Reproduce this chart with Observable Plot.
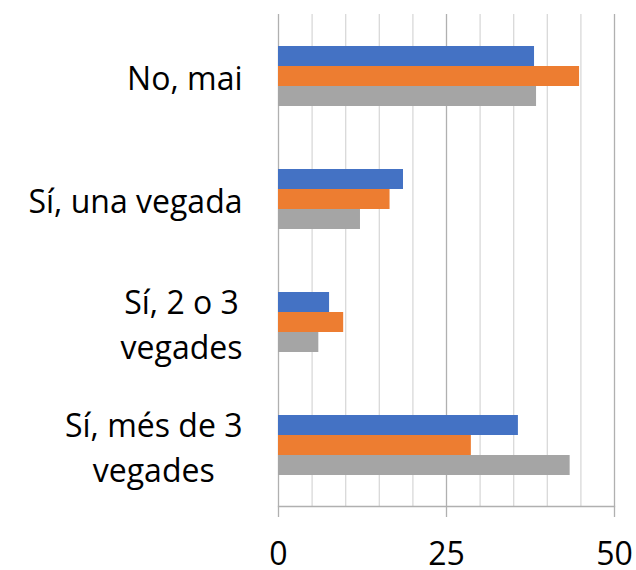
<!DOCTYPE html>
<html>
<head>
<meta charset="utf-8">
<script src="https://cdn.jsdelivr.net/npm/d3@7"></script>
<script src="https://cdn.jsdelivr.net/npm/@observablehq/plot@0.6"></script>
<style>
  body { margin: 0; background: #fff; }
  #chart { width: 636px; height: 570px; }
</style>
</head>
<body>
<div id="chart"></div>
<script>
const categories = ["No, mai", "Sí, una vegada", "Sí, 2 o 3\nvegades", "Sí, més de 3\nvegades"];
const seriesNames = ["Sèrie 1", "Sèrie 2", "Sèrie 3"];
const seriesColors = ["#4472C4", "#ED7D31", "#A5A5A5"];
const serie1 = [38.1, 18.6, 7.6, 35.7];
const serie2 = [44.8, 16.6, 9.7, 28.7];
const serie3 = [38.4, 12.2, 6.0, 43.4];
const majorTicks = [0, 25, 50];
const minorTicks = [5, 10, 15, 20, 30, 35, 40, 45];

const allSeries = [serie1, serie2, serie3];
const data = [];
categories.forEach((c, i) => {
  seriesNames.forEach((s, j) => data.push({category: c, series: s, value: allSeries[j][i]}));
});

const font = "'Open Sans', Lato, sans-serif";

const chart = Plot.plot({
  width: 636,
  height: 570,
  marginTop: 12,
  marginBottom: 63,
  marginLeft: 278,
  marginRight: 22,
  style: {fontFamily: font, background: "#fff", color: "#000"},
  x: {domain: [0, 50], axis: null},
  y: {domain: seriesNames, axis: null, paddingInner: 0, paddingOuter: 1.5},
  fy: {domain: categories, padding: 0, axis: null},
  color: {domain: seriesNames, range: seriesColors},
  marks: [
    Plot.ruleX(minorTicks, {stroke: "#d9d9d9", strokeWidth: 1.3}),
    Plot.ruleX(majorTicks, {stroke: "#b0b0b0", strokeWidth: 1.3}),
    Plot.barX(data, {x: "value", y: "series", fy: "category", fill: "series"}),
    Plot.frame({anchor: "bottom", facetAnchor: "bottom", stroke: "#b0b0b0", strokeWidth: 1.3}),
    Plot.axisX({ticks: majorTicks, tickSize: 11, tickPadding: 25, fontSize: 32, stroke: "#b0b0b0", strokeWidth: 1.3, fill: "#000", label: null, tickFormat: d => String(d)}),
    Plot.axisFy({anchor: "left", tickSize: 0, tickPadding: 36, fontSize: 32, lineHeight: 1.4, fill: "#000", label: null, ariaLabel: "fy-axis"})
  ]
});

document.getElementById("chart").appendChild(chart);

// Center the lines of multi-line category labels within their right-aligned block
chart.querySelectorAll('g[aria-label="fy-axis"] text, g[aria-label="fy-axis tick label"] text').forEach(t => {
  const spans = t.querySelectorAll("tspan");
  if (spans.length > 1) {
    let maxW = 0;
    spans.forEach(s => { maxW = Math.max(maxW, s.getComputedTextLength()); });
    t.setAttribute("text-anchor", "middle");
    spans.forEach(s => s.setAttribute("x", -maxW / 2));
  }
});
</script>
</body>
</html>
